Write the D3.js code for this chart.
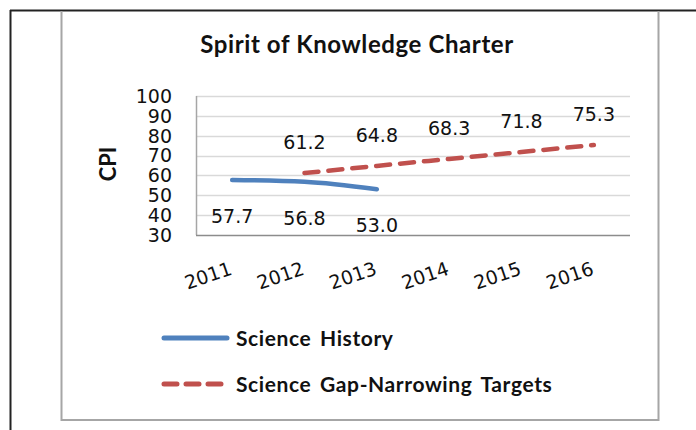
<!DOCTYPE html>
<html>
<head>
<meta charset="utf-8">
<script src="https://cdn.jsdelivr.net/npm/d3@7"></script>
<style>
  body { margin: 0; background: #fff; }
  svg { display: block; }
  .num { font-family: "DejaVu Sans", Verdana, sans-serif; fill: #111; }
  .lbl { font-family: Lato, "Open Sans", sans-serif; font-weight: bold; fill: #111; }
</style>
</head>
<body>
<div id="chart"></div>
<script>
// data
const years = ["2011", "2012", "2013", "2014", "2015", "2016"];
const historyYears = ["2011", "2012", "2013"];
const historyValues = [57.7, 56.8, 53.0];
const targetYears = ["2012", "2013", "2014", "2015", "2016"];
const targetValues = [61.2, 64.8, 68.3, 71.8, 75.3];
const yTicks = [30, 40, 50, 60, 70, 80, 90, 100];
const seriesNames = ["Science History", "Science Gap-Narrowing Targets"];

const W = 696, H = 430;
const blue = "#4f81bd", red = "#c0504d";

svg = d3.select("#chart").append("svg")
    .attr("width", W)
    .attr("height", H)

// frames (outer black, inner gray chart area)
svg.append("line").attr("x1", 10).attr("x2", W).attr("y1", 10.5).attr("y2", 10.5)
   .attr("stroke", "#222").attr("stroke-width", 2)
svg.append("line").attr("x1", 10.5).attr("x2", 10.5).attr("y1", 10).attr("y2", H)
   .attr("stroke", "#222").attr("stroke-width", 2)
svg.append("path")
   .attr("d", "M61.5,11 V420 H658.5 V11")
   .attr("fill", "none").attr("stroke", "#a6a6a6").attr("stroke-width", 2)

let x = d3.scalePoint().domain(years).range([196, 630]).padding(0.5)
let y = d3.scaleLinear().domain([30, 100]).range([235, 96])

// gridlines
svg.append("g").selectAll("line")
   .data(yTicks.filter(d => d > 30))
   .join("line")
   .attr("x1", 196).attr("x2", 630)
   .attr("y1", d => Math.round(y(d)) + 0.5).attr("y2", d => Math.round(y(d)) + 0.5)
   .attr("stroke", "#d9d9d9").attr("stroke-width", 1.5)

// axes lines
svg.append("line").attr("x1", 196.5).attr("x2", 196.5).attr("y1", y(100)).attr("y2", y(30))
   .attr("stroke", "#a6a6a6").attr("stroke-width", 1.5)
svg.append("line").attr("x1", 196).attr("x2", 630).attr("y1", y(30) + 0.5).attr("y2", y(30) + 0.5)
   .attr("stroke", "#8c8c8c").attr("stroke-width", 1.5)

// y tick labels
svg.append("g").selectAll("text")
   .data(yTicks)
   .join("text")
   .attr("class", "num")
   .attr("x", 172)
   .attr("y", d => y(d))
   .attr("dy", "0.36em")
   .attr("text-anchor", "end")
   .style("font-size", "19px")
   .text(d => d)

// x tick labels, rotated
svg.append("g").selectAll("text")
   .data(years)
   .join("text")
   .attr("class", "num")
   .attr("text-anchor", "end")
   .attr("transform", d => "translate(" + (x(d) + 1) + ",274) rotate(-19)")
   .style("font-size", "19px")
   .text(d => d)

// title + axis title
svg.append("text").attr("class", "lbl")
   .attr("x", 357).attr("y", 53)
   .attr("text-anchor", "middle")
   .style("font-size", "24px")
   .style("letter-spacing", "0.6px")
   .text("Spirit of Knowledge Charter")

svg.append("text").attr("class", "lbl")
   .attr("transform", "translate(116,164) rotate(-90)")
   .attr("text-anchor", "middle")
   .style("font-size", "22px")
   .text("CPI")

// lines
let line = d3.line()
    .x(d => x(d[0]))
    .y(d => y(d[1]))
    .curve(d3.curveMonotoneX)

let historyData = historyYears.map((d, i) => [d, historyValues[i]])
let targetData = targetYears.map((d, i) => [d, targetValues[i]])

svg.append("path")
   .datum(historyData)
   .attr("d", line)
   .attr("fill", "none")
   .attr("stroke", blue)
   .attr("stroke-width", 4.5)
   .attr("stroke-linecap", "round")

svg.append("path")
   .datum(targetData)
   .attr("d", line)
   .attr("fill", "none")
   .attr("stroke", red)
   .attr("stroke-width", 4.5)
   .attr("stroke-linecap", "round")
   .attr("stroke-dasharray", "14,10")

// data labels
svg.append("g").selectAll("text")
   .data(historyData)
   .join("text")
   .attr("class", "num")
   .attr("x", d => x(d[0]))
   .attr("y", d => y(d[1]) + 43)
   .attr("text-anchor", "middle")
   .style("font-size", "19px")
   .text(d => d[1].toFixed(1))

svg.append("g").selectAll("text")
   .data(targetData)
   .join("text")
   .attr("class", "num")
   .attr("x", d => x(d[0]))
   .attr("y", d => y(d[1]) - 24)
   .attr("text-anchor", "middle")
   .style("font-size", "19px")
   .text(d => d[1].toFixed(1))

// legend
let legend = svg.append("g")
let legendY = [338, 384]
legend.selectAll("line")
   .data(seriesNames)
   .join("line")
   .attr("x1", 164).attr("x2", 227)
   .attr("y1", (d, i) => legendY[i]).attr("y2", (d, i) => legendY[i])
   .attr("stroke", (d, i) => i == 0 ? blue : red)
   .attr("stroke-width", 5)
   .attr("stroke-linecap", "round")
   .attr("stroke-dasharray", (d, i) => i == 0 ? null : "13,9")

legend.selectAll("text")
   .data(seriesNames)
   .join("text")
   .attr("class", "lbl")
   .attr("x", 236)
   .attr("y", (d, i) => legendY[i] + 8)
   .style("font-size", "21px")
   .style("letter-spacing", "0.6px")
   .style("word-spacing", "3px")
   .text(d => d)
</script>
</body>
</html>
